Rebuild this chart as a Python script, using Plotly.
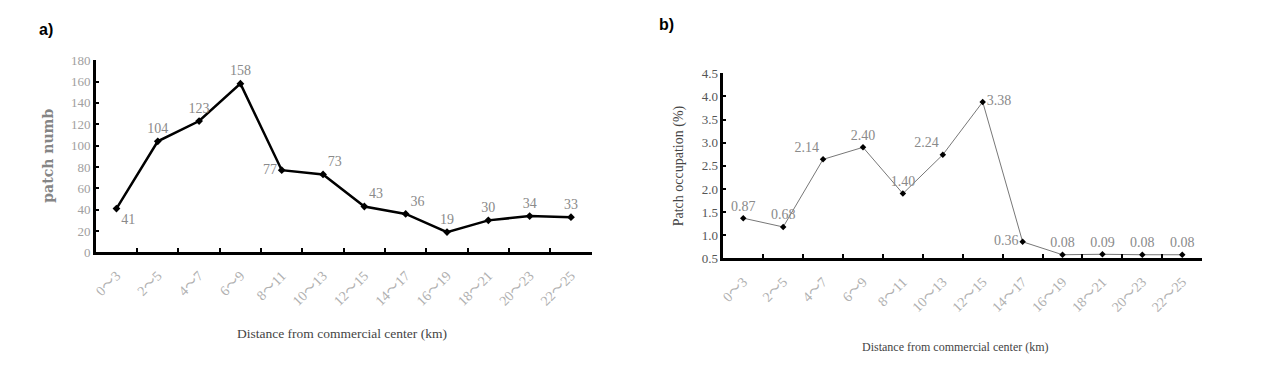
import plotly.graph_objects as go

categories = ["0～3", "2～5", "4～7", "6～9", "8～11", "10～13", "12～15",
              "14～17", "16～19", "18～21", "20～23", "22～25"]
patch_num = [41, 104, 123, 158, 77, 73, 43, 36, 19, 30, 34, 33]
patch_num_labels = ["41", "104", "123", "158", "77", "73", "43", "36", "19", "30", "34", "33"]
occupation = [0.87, 0.68, 2.14, 2.40, 1.40, 2.24, 3.38, 0.36, 0.08, 0.09, 0.08, 0.08]
occupation_labels = ["0.87", "0.68", "2.14", "2.40", "1.40", "2.24", "3.38", "0.36",
                     "0.08", "0.09", "0.08", "0.08"]
left_y_ticks = [0, 20, 40, 60, 80, 100, 120, 140, 160, 180]
right_y_tickvals = [0, 0.5, 1.0, 1.5, 2.0, 2.5, 3.0, 3.5, 4.0]
right_y_ticktext = ["0.5", "1.0", "1.5", "2.0", "2.5", "3.0", "3.5", "4.0", "4.5"]

left_pos = ["bottom right", "top center", "top center", "top center", "middle left",
            "top right", "top right", "top right", "top center", "top center",
            "top center", "top center"]
right_pos = ["top center", "top center", "top left", "top center", "top center",
             "top left", "middle right", "middle left", "top center", "top center",
             "top center", "top center"]

SERIF = "Liberation Serif, Times New Roman, Noto Sans CJK SC, serif"

fig = go.Figure()
fig.add_trace(go.Scatter(
    x=categories, y=patch_num, mode="lines+markers+text",
    text=patch_num_labels, textposition=left_pos,
    textfont=dict(family=SERIF, size=14, color="#8a8a8a"),
    line=dict(color="black", width=2.5),
    marker=dict(symbol="diamond", size=6, color="black"),
    xaxis="x", yaxis="y", showlegend=False, cliponaxis=False,
))
fig.add_trace(go.Scatter(
    x=categories, y=occupation, mode="lines+markers+text",
    text=occupation_labels, textposition=right_pos,
    textfont=dict(family=SERIF, size=14, color="#8a8a8a"),
    line=dict(color="#777777", width=1),
    marker=dict(symbol="diamond", size=5, color="black"),
    xaxis="x2", yaxis="y2", showlegend=False, cliponaxis=False,
))

W, H = 1273, 377
OFF = 8  # default page body margin
def px_x(a): return (a - OFF) / W
def px_y(b):
    b = (b - 9.5) / 0.954  # compensate observed vertical placement
    return 1 - (b - OFF) / H

common_x = dict(type="category", range=[-0.5, 11.5], showgrid=False, zeroline=False,
                showline=True, linecolor="black", ticks="inside", tickson="boundaries",
                tickcolor="black", tickwidth=2, ticklen=5, tickangle=-45,
                ticklabelstandoff=7,
                tickfont=dict(family=SERIF, size=14, color="#b0b0b0"))

def ann(text, x, y, size, color, family=SERIF, angle=0):
    return dict(text=text, x=px_x(x), y=px_y(y), xref="paper", yref="paper",
                xanchor="center", yanchor="middle", showarrow=False, textangle=angle,
                font=dict(family=family, size=size, color=color))

fig.update_layout(
    width=W, height=H, margin=dict(l=0, r=0, t=0, b=0),
    paper_bgcolor="white", plot_bgcolor="white",
    xaxis=dict(domain=[px_x(93), px_x(590)], anchor="y", linewidth=2.5, **common_x),
    yaxis=dict(domain=[px_y(253), px_y(62)], anchor="x", range=[0, 180],
               tickvals=left_y_ticks, showgrid=False, zeroline=False, showline=True,
               linecolor="black", linewidth=2.5, ticks="inside", ticklen=3,
               tickcolor="black", tickwidth=2,
               tickfont=dict(family=SERIF, size=13, color="#a0a0a0")),
    xaxis2=dict(domain=[px_x(722), px_x(1202)], anchor="y2", linewidth=2.5, **common_x),
    yaxis2=dict(domain=[px_y(259), px_y(75)], anchor="x2", range=[0, 4],
                tickvals=right_y_tickvals, ticktext=right_y_ticktext,
                showgrid=False, zeroline=False, showline=True,
                linecolor="black", linewidth=2.5, ticks="inside", ticklen=3,
                tickcolor="black", tickwidth=2,
                tickfont=dict(family=SERIF, size=13, color="#555555")),
    annotations=[
        ann("<b>a)</b>", 43, 32, 16, "black", "Liberation Sans, Arial"),
        ann("<b>b)</b>", 665, 27, 16, "black", "Liberation Sans, Arial"),
        ann("Distance from commercial center (km)", 340, 334, 13.5, "#444444"),
        ann("Distance from commercial center (km)", 955, 347, 12, "#444444"),
        ann("<b>patch numb</b>", 45, 157, 14, "#858585", "DejaVu Serif, serif", -90),
        ann("Patch occupation (%)", 677, 167, 14, "#444444", SERIF, -90),
    ],
)

fig.write_html("out.html")
